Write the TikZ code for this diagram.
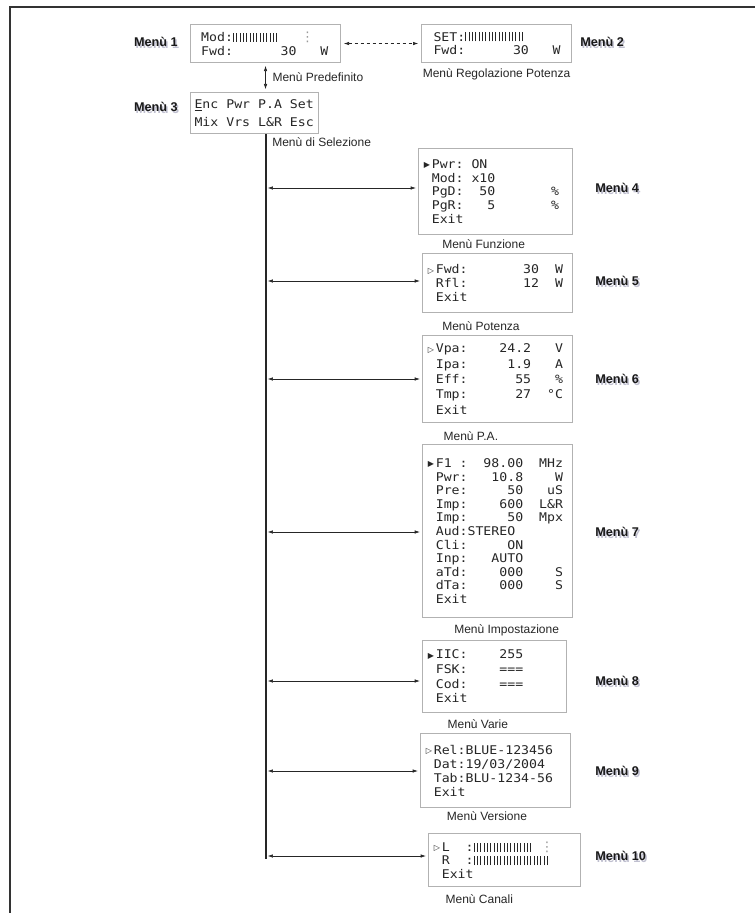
\documentclass[tikz,border=0pt]{standalone}
\usepackage{fontspec}
\usetikzlibrary{positioning,arrows.meta}
\newfontfamily\lcdfont[FakeStretch=1.1]{DejaVu Sans Mono}
\newfontfamily\symfont{DejaVu Sans}
\newfontfamily\labelfont{Liberation Sans}
\newcommand\lcdsize[1]{\lcdfont\fontsize{9}{#1}\selectfont}
\newcommand\lcdcell[1]{\leavevmode\setbox0\hbox{0}\hbox to\wd0{#1\hss}}
\newcommand\blank{\lcdcell{}}
\newcommand\lcdgap[1]{\foreach \g in {1,...,#1}{\lcdcell{}}}
\newcommand\selon{\lcdcell{\raisebox{0.5pt}{\symfont\fontsize{6}{6}\selectfont ▶}}}
\newcommand\seloff{\lcdcell{\raisebox{0.5pt}{\symfont\fontsize{6}{6}\selectfont ▷}}}
\newcommand\lcdbars[1]{\foreach \k in {1,...,#1}{\rule[-0.2pt]{0.8pt}{6.8pt}\hspace{1.7pt}}}
\newcommand\lcdmark{{\symfont\fontsize{10}{10}\selectfont\color{black!40}⋮}}
\begin{document}
\begin{tikzpicture}[x=0.75pt,y=-0.75pt,
  lcd/.style={draw=black!30, line width=0.8pt, fill=white, anchor=north west,
    align=left, inner xsep=4pt, inner ysep=2pt, text=black!85, font=\lcdsize{#1}},
  lcd/.default=10.3,
  menutag/.style={font=\labelfont\bfseries\fontsize{9.5}{10}\selectfont, text=black!90, inner sep=0pt},
  tagshade/.style={menutag, text=blue!25!black!25},
  caption/.style={font=\labelfont\fontsize{9}{10}\selectfont, text=black!85, inner sep=0pt},
  link/.style={{Latex[length=4pt,width=2.6pt]}-{Latex[length=4pt,width=2.6pt]}, line width=0.5pt, black!85},
  bus/.style={line width=2pt, black!85},
  frame/.style={line width=1.8pt, black!80}]
\useasboundingbox (0,0) rectangle (755,913);
% cornice
\draw[frame] (10,913) -- (10,7) -- (755,7);
% menu in alto
\node[lcd, inner xsep=8pt, text width=96.5pt, minimum height=28.5pt] (m1) at (190,24)
  {Mod:\lcdbars{14}\hspace{16pt}\lcdmark\\Fwd:\lcdgap{6}30\lcdgap{3}W};
\node[lcd, inner xsep=9pt, text width=94.5pt, minimum height=28.5pt] (m2) at (421,24)
  {SET:\lcdbars{18}\\Fwd:\lcdgap{6}30\lcdgap{3}W};
\node[lcd=13, inner xsep=3pt, text width=90pt, minimum height=30.75pt] (m3) at (190,92)
  {\underline{E}nc\lcdgap{1}Pwr\lcdgap{1}P.A\lcdgap{1}Set\\Mix\lcdgap{1}Vrs\lcdgap{1}L\&R\lcdgap{1}Esc};
\draw[link, dashed, dash pattern=on 2.5pt off 2pt, shorten <=2pt, shorten >=2pt] (m1.east) -- (m2.west);
\draw[link, shorten <=2pt, shorten >=2pt] (m1.south) -- (m1.south |- m3.north)
  node[caption, midway, right=5pt] (c1) {Menù Predefinito};
\node[caption, below=4pt of m2] (c2) {Menù Regolazione Potenza};
\node[caption, anchor=west] (c3) at (272,142) {Menù di Selezione};
% sottomenu
\node[lcd, text width=107.5pt, minimum height=64.5pt] (m4) at (418,148)
  {\selon Pwr:\lcdgap{1}ON\\\blank Mod:\lcdgap{1}x10\\\blank PgD:\lcdgap{2}50\lcdgap{7}\%\\\blank PgR:\lcdgap{3}5\lcdgap{7}\%\\\blank Exit};
\node[lcd, text width=104.5pt, minimum height=44.25pt] (m5) at (422,253)
  {\seloff Fwd:\lcdgap{7}30\lcdgap{2}W\\\blank Rfl:\lcdgap{7}12\lcdgap{2}W\\\blank Exit};
\node[lcd=11.5, text width=104.5pt, minimum height=65.25pt] (m6) at (422,335)
  {\seloff Vpa:\lcdgap{4}24.2\lcdgap{3}V\\\blank Ipa:\lcdgap{5}1.9\lcdgap{3}A\\\blank Eff:\lcdgap{6}55\lcdgap{3}\%\\\blank Tmp:\lcdgap{6}27\lcdgap{2}°C\\\blank Exit};
\node[lcd=10.2, text width=104.5pt, minimum height=129.75pt] (m7) at (422,444)
  {\selon F1\lcdgap{1}:\lcdgap{2}98.00\lcdgap{2}MHz\\\blank Pwr:\lcdgap{3}10.8\lcdgap{4}W\\\blank Pre:\lcdgap{5}50\lcdgap{3}uS\\\blank Imp:\lcdgap{4}600\lcdgap{2}L\&R\\\blank Imp:\lcdgap{5}50\lcdgap{2}Mpx\\\blank Aud:STEREO\\\blank Cli:\lcdgap{5}ON\\\blank Inp:\lcdgap{3}AUTO\\\blank aTd:\lcdgap{4}000\lcdgap{4}S\\\blank dTa:\lcdgap{4}000\lcdgap{4}S\\\blank Exit};
\node[lcd=11, text width=100pt, minimum height=54pt] (m8) at (422,640)
  {\selon IIC:\lcdgap{4}255\\\blank FSK:\lcdgap{4}===\\\blank Cod:\lcdgap{4}===\\\blank Exit};
\node[lcd=10.5, text width=104.5pt, minimum height=55.5pt] (m9) at (420,733)
  {\seloff Rel:BLUE-123456\\\blank Dat:19/03/2004\\\blank Tab:BLU-1234-56\\\blank Exit};
\node[lcd=10, text width=106pt, minimum height=39.75pt] (m10) at (428,833)
  {\seloff L\lcdgap{2}:\lcdbars{18}\hspace{5pt}\lcdmark\\\blank R\lcdgap{2}:\lcdbars{23}\\\blank Exit};
% didascalie
\node[caption, below right=3pt and 18pt of m4.south west] (c4) {Menù Funzione};
\node[caption, below right=6pt and 15pt of m5.south west] (c5) {Menù Potenza};
\node[caption, below right=6pt and 16pt of m6.south west] (c6) {Menù P.A.};
\node[caption, below right=4.5pt and 24pt of m7.south west] (c7) {Menù Impostazione};
\node[caption, below right=4.5pt and 19pt of m8.south west] (c8) {Menù Varie};
\node[caption, below right=2.5pt and 20pt of m9.south west] (c9) {Menù Versione};
\node[caption, below right=5.5pt and 13pt of m10.south west] (c10) {Menù Canali};
% etichette
\foreach \n/\x/\y/\a in {1/178/42/east,3/178/107/east,2/580/42/west,4/595/188/west,
    5/595/281/west,6/595/379/west,7/595/532/west,8/595/681/west,9/595/771/west,10/595/856/west}{
  \node[tagshade, anchor=\a] at (\x+1.5,\y+1.5) {Menù \n};
  \node[menutag, anchor=\a] (tag\n) at (\x,\y) {Menù \n};
}
% linea di selezione
\coordinate (busend) at (266,859);
\draw[bus] (m3.south -| busend) -- (busend);
\foreach \m/\y in {4/188,5/281,6/379,7/532,8/681,9/771,10/856}
  \draw[link, shorten <=1.2pt, shorten >=1.5pt] (266,\y) coordinate (bus\m) -- (bus\m -| m\m.west);
\end{tikzpicture}
\end{document}
